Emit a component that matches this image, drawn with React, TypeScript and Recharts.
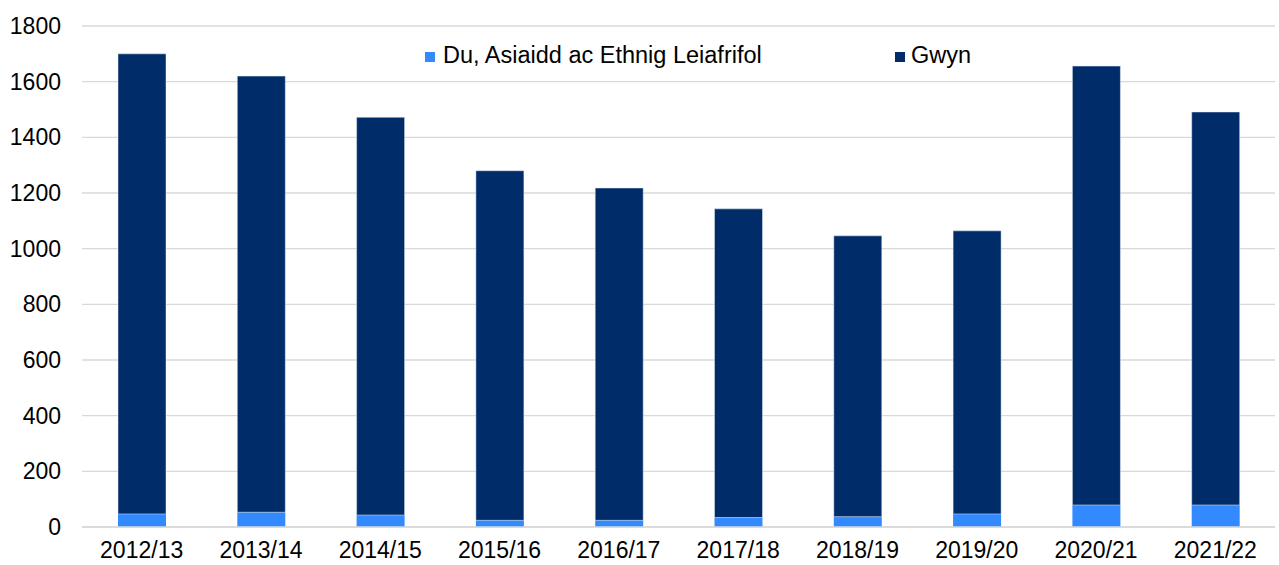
import React from "react";
import { BarChart, Bar, XAxis, YAxis, CartesianGrid } from "recharts";

const categories = ["2012/13", "2013/14", "2014/15", "2015/16", "2016/17", "2017/18", "2018/19", "2019/20", "2020/21", "2021/22"];
const bameValues = [47, 53, 43, 24, 24, 34, 37, 47, 79, 79];
const whiteValues = [1653, 1567, 1429, 1256, 1194, 1109, 1009, 1017, 1577, 1412];
const yTicks = [0, 200, 400, 600, 800, 1000, 1200, 1400, 1600, 1800];

const BAME_NAME = "Du, Asiaidd ac Ethnig Leiafrifol";
const WHITE_NAME = "Gwyn";
const BAME_COLOR = "#338AFF";
const WHITE_COLOR = "#002D6A";

const data = categories.map((c, i) => ({ name: c, bame: bameValues[i], white: whiteValues[i] }));

const FONT = "'Liberation Sans', Arial, sans-serif";

const legendItems = [
  { n: BAME_NAME, c: BAME_COLOR, w: 470, gap: 8 },
  { n: WHITE_NAME, c: WHITE_COLOR, w: 100, gap: 6 },
];

export default function App() {
  return (
    <div style={{ position: "absolute", left: 0, top: 0, width: 1279, height: 565, background: "#fff", overflow: "hidden" }}>
      <BarChart width={1279} height={565} data={data} margin={{ top: 26, right: 4, bottom: 0, left: 0 }}>
        <CartesianGrid vertical={false} stroke="#D9D9D9" strokeWidth={1.3} />
        <XAxis
          dataKey="name"
          height={38}
          axisLine={{ stroke: "#D9D9D9", strokeWidth: 1.5 }}
          tickLine={false}
          tickSize={0}
          tickMargin={15}
          tick={{ fill: "#000", fontSize: 23, fontFamily: FONT }}
          interval={0}
        />
        <YAxis
          width={82}
          domain={[0, 1800]}
          ticks={yTicks}
          axisLine={false}
          tickLine={false}
          tickSize={0}
          tickMargin={21}
          tick={{ fill: "#000", fontSize: 23, fontFamily: FONT }}
        />
        <Bar dataKey="bame" name={BAME_NAME} stackId="a" fill={BAME_COLOR} barSize={48} isAnimationActive={false} />
        <Bar dataKey="white" name={WHITE_NAME} stackId="a" fill={WHITE_COLOR} barSize={48} stroke="#E6ECF5" strokeWidth={0.5} isAnimationActive={false} />
      </BarChart>
      <div style={{ position: "absolute", top: 44, left: 425, display: "flex", fontFamily: FONT, fontSize: 23.5, color: "#000", lineHeight: 1 }}>
        {legendItems.map((it) => (
          <div key={it.n} style={{ display: "flex", alignItems: "center", width: it.w }}>
            <span style={{ display: "inline-block", width: 10, height: 10, background: it.c, marginRight: it.gap, marginTop: 2 }} />
            <span>{it.n}</span>
          </div>
        ))}
      </div>
    </div>
  );
}
